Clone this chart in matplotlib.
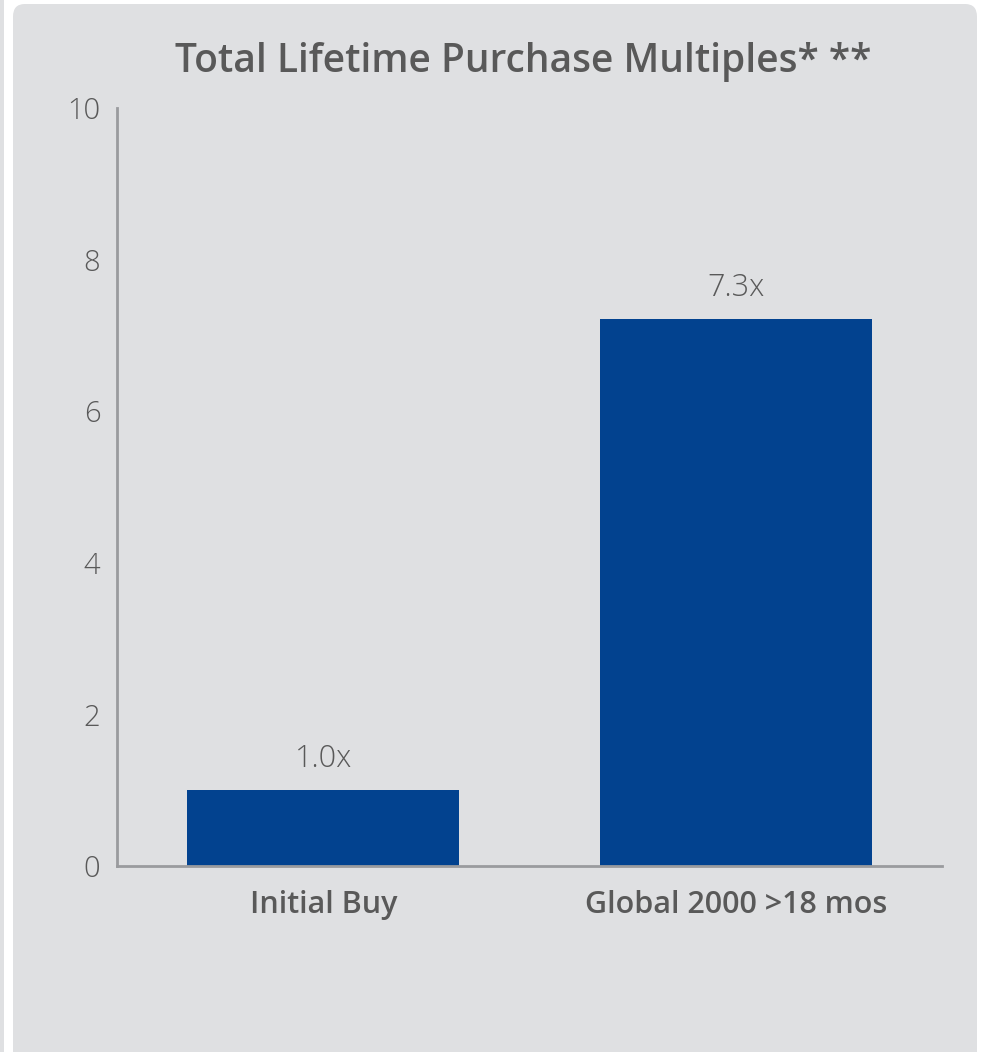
import matplotlib
matplotlib.use("Agg")
import matplotlib.pyplot as plt
from matplotlib.patches import FancyBboxPatch

categories = ['Initial Buy', 'Global 2000 >18 mos']
multiples = [1.0, 7.22]
value_labels = ['1.0x', '7.3x']
yticks = [0, 2, 4, 6, 8, 10]

plt.rcParams['font.family'] = ['Open Sans', 'DejaVu Sans']
text_col = '#595959'
bar_col = '#02428F'
panel_col = '#DFE0E2'

fig = plt.figure(figsize=(9.82, 10.52), dpi=100)
fig.patch.set_facecolor('white')

# background panels (rounded card plus the edge of the neighbour card)
W, H = 982.0, 1052.0
card = FancyBboxPatch((13 / W, -0.05), (977 - 13) / W, (1052 - 4) / H + 0.05,
                      boxstyle='round,pad=0,rounding_size=0.012',
                      transform=fig.transFigure, facecolor=panel_col,
                      edgecolor='none', zorder=0)
fig.patches.append(card)
side = FancyBboxPatch((-0.05, -0.05), 0.05 + 4 / W, 1.2,
                      boxstyle='round,pad=0,rounding_size=0.004',
                      transform=fig.transFigure, facecolor=panel_col,
                      edgecolor='none', zorder=0)
fig.patches.append(side)

ax = fig.add_axes([117 / W, 186 / H, 825 / W, 758 / H])
ax.set_zorder(2)
ax.set_facecolor('none')

x = range(len(categories))
bars = ax.bar(x, multiples, width=0.66, color=bar_col, zorder=2)
for b, lab in zip(bars, value_labels):
    ax.text(b.get_x() + b.get_width() / 2, b.get_height() + 0.2, lab,
            ha='center', va='bottom', fontsize=22, color=text_col,
            fontweight='light')

ax.set_xlim(-0.5, 1.5)
ax.set_ylim(0, 10)
ax.set_yticks(yticks)
ax.set_yticklabels([str(t) for t in yticks], fontsize=21, color=text_col,
                   fontweight='light')
ax.set_xticks(list(x))
ax.set_xticklabels(categories, fontsize=22, color=text_col, fontweight='semibold')
ax.tick_params(axis='y', length=0, pad=12)
ax.tick_params(axis='x', length=0, pad=17)

for s in ['top', 'right']:
    ax.spines[s].set_visible(False)
for s in ['left', 'bottom']:
    ax.spines[s].set_color('#9A9B9E')
    ax.spines[s].set_linewidth(2)

fig.text(523 / W, 1 - 62 / H, 'Total Lifetime Purchase Multiples* **',
         ha='center', va='center', fontsize=28, color=text_col,
         fontweight='semibold')

fig.savefig('out.png', dpi=100, facecolor=fig.get_facecolor())
